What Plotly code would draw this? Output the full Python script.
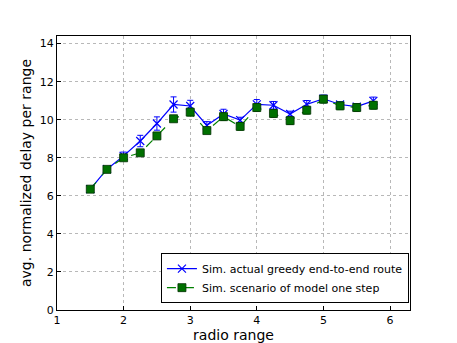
import plotly.graph_objects as go

radio_range = [1.5, 1.75, 2.0, 2.25, 2.5, 2.75, 3.0, 3.25, 3.5, 3.75, 4.0, 4.25, 4.5, 4.75, 5.0, 5.25, 5.5, 5.75]
greedy_delay = [6.35, 7.4, 8.1, 8.88, 9.8, 10.8, 10.72, 9.7, 10.3, 9.98, 10.81, 10.76, 10.3, 10.81, 11.1, 10.8, 10.69, 10.99]
greedy_err = [0.05, 0.1, 0.2, 0.3, 0.35, 0.4, 0.3, 0.2, 0.25, 0.15, 0.25, 0.2, 0.15, 0.2, 0.2, 0.15, 0.15, 0.2]
model_delay = [6.35, 7.39, 8.0, 8.26, 9.15, 10.05, 10.4, 9.43, 10.16, 9.65, 10.64, 10.33, 9.95, 10.5, 11.08, 10.73, 10.64, 10.76]
model_err = [0.05, 0.08, 0.1, 0.1, 0.15, 0.15, 0.2, 0.15, 0.2, 0.2, 0.2, 0.2, 0.2, 0.2, 0.2, 0.2, 0.2, 0.2]

x_ticks = [1, 2, 3, 4, 5, 6]
y_ticks = [0, 2, 4, 6, 8, 10, 12, 14]

fig = go.Figure()
fig.add_trace(go.Scatter(
    x=radio_range, y=greedy_delay, mode="lines+markers",
    name="Sim. actual greedy end-to-end route",
    line=dict(color="#0000ff", width=1.2),
    marker=dict(symbol="x-thin", size=8, line=dict(color="#0000ff", width=1.2)),
    error_y=dict(type="data", array=greedy_err, color="#0000ff", thickness=1, width=3),
))
fig.add_trace(go.Scatter(
    x=radio_range, y=model_delay, mode="lines+markers",
    name="Sim. scenario of model one step",
    line=dict(color="#008000", width=1.2, dash="dash"),
    marker=dict(symbol="square", size=8, color="#007000", line=dict(color="#003000", width=0.8)),
    error_y=dict(type="data", array=model_err, color="#008000", thickness=1, width=3),
))

axis_common = dict(
    showgrid=True, gridcolor="#b8b8b8", griddash="dot", gridwidth=1,
    showline=True, linecolor="black", linewidth=1, mirror=True,
    ticks="inside", ticklen=4, tickcolor="black", zeroline=False,
    automargin=False,
    tickfont=dict(family="DejaVu Sans", size=11, color="black"),
)
fig.update_xaxes(range=[1, 6.3], tickvals=x_ticks,
                 title=dict(text="radio range", font=dict(family="DejaVu Sans", size=14, color="black"), standoff=0),
                 **axis_common)
fig.update_yaxes(range=[0, 14.4], tickvals=y_ticks,
                 title=dict(text="avg. normalized delay per range", font=dict(family="DejaVu Sans", size=14, color="black"), standoff=4),
                 **axis_common)

fig.update_layout(
    width=457, height=343,
    margin=dict(l=57, r=47, t=36, b=33),
    paper_bgcolor="white", plot_bgcolor="white",
    font=dict(family="DejaVu Sans", color="black"),
    legend=dict(x=0.997, y=0.025, xanchor="right", yanchor="bottom",
                bgcolor="white", bordercolor="black", borderwidth=1,
                font=dict(family="DejaVu Sans", size=11, color="black"),
                tracegroupgap=0, itemwidth=30),
    showlegend=True,
)

fig.write_html("out.html", config={"displayModeBar": False},
               post_script="document.body.style.margin='0';document.body.style.overflow='hidden';")
